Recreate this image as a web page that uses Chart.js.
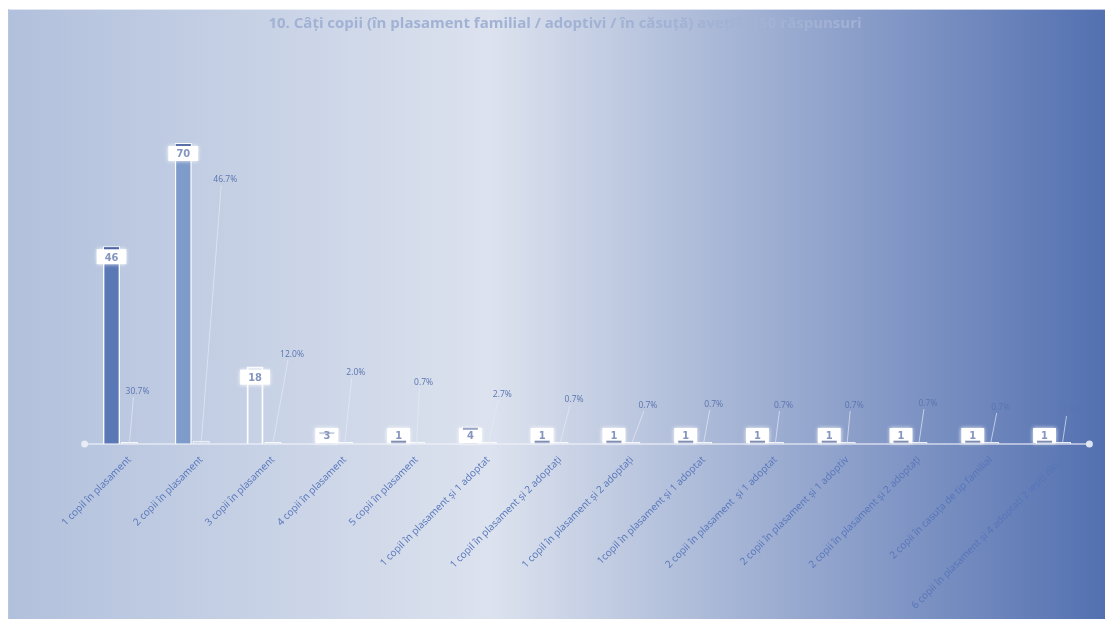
<!DOCTYPE html>
<html>
<head>
<meta charset="utf-8">
<title>10. Câți copii</title>
<script src="https://cdn.jsdelivr.net/npm/chart.js@4.4.1/dist/chart.umd.min.js"></script>
<style>
  html, body { margin: 0; padding: 0; background: #fff; }
  #wrap {
    position: absolute; left: 8px; top: 9px;
    width: 1096px; height: 609px;
    border-left: 1px solid rgba(255,255,255,0.6);
    border-top: 1px solid rgba(255,255,255,0.6);
    background: linear-gradient(to right, #b1c0dc 0%, #dce2ee 44%, #5370b0 100%);
  }
  canvas { display: block; }
</style>
</head>
<body>
<div id="wrap"><canvas id="chart" width="1096" height="609"></canvas></div>
<script>
// ------------------------
// DATA
// ------------------------
const categories = [
  "1 copil în plasament",
  "2 copii în plasament",
  "3 copii în plasament",
  "4 copii în plasament",
  "5 copii în plasament",
  "1 copil în plasament și 1 adoptat",
  "1 copil în plasament și 2 adoptați",
  "1 copil în plasament și 2 adoptați",
  "1copil în plasament și 1 adoptat",
  "2 copii în plasament  și 1 adoptat",
  "2 copii în plasament și 1 adoptiv",
  "2 copii în plasament și 2 adoptați",
  "2 copii în casuța de tip familial",
  "6 copii în plasament și 4 adoptați 2 ieșiți din..."
];
const counts = [46, 70, 18, 3, 1, 4, 1, 1, 1, 1, 1, 1, 1, 1];
const percents = [30.7, 46.7, 12.0, 2.0, 0.7, 2.7, 0.7, 0.7, 0.7, 0.7, 0.7, 0.7, 0.7, 0.7];

const titleText = "10. Câți copii (în plasament familial / adoptivi / în căsuță) aveți?- 150 răspunsuri";

// ------------------------
// STYLE
// ------------------------
const barFills = ["#5a78b5", "#7f9bca", "rgba(0,0,0,0)", "#b9c5df", "#8c9cc4", "#a9b5d2",
  "#8c9cc4", "#8c9cc4", "#8c9cc4", "#8c9cc4", "#8c9cc4", "#8c9cc4", "#8c9cc4", "#8c9cc4"];
const capColors = ["#4d67a3", "#5a71a8", null, "#c9d1e3", "#7f8db3", "#9aa6c6",
  "#7f8db3", "#7f8db3", "#7f8db3", "#7f8db3", "#7f8db3", "#7f8db3", "#7f8db3", "#7f8db3"];

// callout label placement: [shift right of group centre, lift above baseline]
const calloutShift = [17, 33, 28, 20, 16, 23, 23, 25, 19, 17, 16, 18, 19, 17];
const calloutLift = [52, 264, 89, 71, 61, 49, 44, 38, 39, 38, 38, 40, 36, 33];

// ------------------------
// DECORATION PLUGIN
// ------------------------
const decorations = {
  id: "decorations",
  beforeDraw(chart) {
    const ctx = chart.ctx;
    ctx.save();
    ctx.font = 'bold 15px "Open Sans", sans-serif';
    ctx.fillStyle = "#a2b2d4";
    ctx.textAlign = "center";
    ctx.textBaseline = "middle";
    ctx.fillText(titleText, 556, 14);
    ctx.restore();
  },
  afterDatasetsDraw(chart) {
    const ctx = chart.ctx;
    const area = chart.chartArea;
    const base = chart.scales.y.getPixelForValue(0);

    ctx.save();

    // baseline with end dots
    ctx.strokeStyle = "rgba(240,243,250,0.75)";
    ctx.lineWidth = 1.5;
    ctx.beginPath();
    ctx.moveTo(area.left, base);
    ctx.lineTo(area.right, base);
    ctx.stroke();
    ctx.fillStyle = "rgba(236,240,248,0.9)";
    [area.left, area.right].forEach(x => {
      ctx.beginPath();
      ctx.arc(x, base, 3.5, 0, Math.PI * 2);
      ctx.fill();
    });

    const countBars = chart.getDatasetMeta(0).data;
    const pctBars = chart.getDatasetMeta(1).data;

    // value boxes
    ctx.font = 'bold 11px "DejaVu Sans Condensed", "Liberation Sans Narrow", sans-serif';
    ctx.textAlign = "center";
    ctx.textBaseline = "middle";
    countBars.forEach((bar, i) => {
      const text = String(counts[i]);
      const w = ctx.measureText(text).width + 16;
      const h = 15;
      const boxTop = Math.min(bar.y + 3, base - 1 - h);
      ctx.shadowColor = "rgba(255,255,255,0.9)";
      ctx.shadowBlur = 4;
      ctx.fillStyle = "#ffffff";
      ctx.fillRect(bar.x - w / 2, boxTop, w, h);
      ctx.shadowBlur = 0;
      if (capColors[i]) {
        ctx.fillStyle = capColors[i];
        ctx.fillRect(bar.x - bar.width / 2 + 1, bar.y + 1, bar.width - 2, 2);
      }
      ctx.fillStyle = "#8595bf";
      ctx.fillText(text, bar.x, boxTop + h / 2 + 1);
    });

    // percentage callouts
    ctx.font = '8.5px "Open Sans", sans-serif';
    pctBars.forEach((bar, i) => {
      const centre = (countBars[i].x + bar.x) / 2;
      const lx = centre + calloutShift[i];
      const ly = base - calloutLift[i];
      ctx.strokeStyle = "rgba(228,234,246,0.7)";
      ctx.lineWidth = 1;
      ctx.beginPath();
      ctx.moveTo(bar.x, base - 1);
      ctx.lineTo(lx - 4, ly + 5);
      ctx.stroke();
      ctx.fillStyle = "#5a74b0";
      ctx.fillText(percents[i].toFixed(1) + "%", lx, ly);
    });

    ctx.restore();
  }
};

// ------------------------
// CHART
// ------------------------
const ctx = document.getElementById("chart").getContext("2d");

new Chart(ctx, {
  type: "bar",
  data: {
    labels: categories,
    datasets: [
      {
        label: "Răspunsuri",
        data: counts,
        yAxisID: "y",
        backgroundColor: barFills,
        borderColor: "rgba(255,255,255,0.9)",
        borderWidth: [1.5, 1.5, 2, 1, 1, 1, 1, 1, 1, 1, 1, 1, 1, 1],
        categoryPercentage: 0.5,
        barPercentage: 0.95
      },
      {
        label: "Procent",
        data: percents,
        yAxisID: "y2",
        backgroundColor: "rgba(255,255,255,0.2)",
        borderColor: "rgba(255,255,255,0.85)",
        borderWidth: 1,
        minBarLength: 2,
        categoryPercentage: 0.5,
        barPercentage: 0.95
      }
    ]
  },
  options: {
    responsive: false,
    animation: false,
    layout: {
      padding: { left: 75.6, right: 15.6, top: 90, bottom: 0 }
    },
    plugins: {
      legend: { display: false },
      tooltip: { enabled: false },
      title: { display: false }
    },
    scales: {
      x: {
        grid: { display: false, drawTicks: false },
        border: { display: false },
        ticks: {
          color: "#5574ba",
          font: { family: '"Open Sans", sans-serif', size: 10 },
          minRotation: 45,
          maxRotation: 45,
          autoSkip: false,
          padding: 10,
          labelOffset: 9
        },
        afterFit: scale => { scale.height = 175; }
      },
      y: {
        display: false,
        min: 0,
        max: 80
      },
      y2: {
        display: false,
        min: 0,
        max: 5000
      }
    }
  },
  plugins: [decorations]
});
</script>
</body>
</html>
